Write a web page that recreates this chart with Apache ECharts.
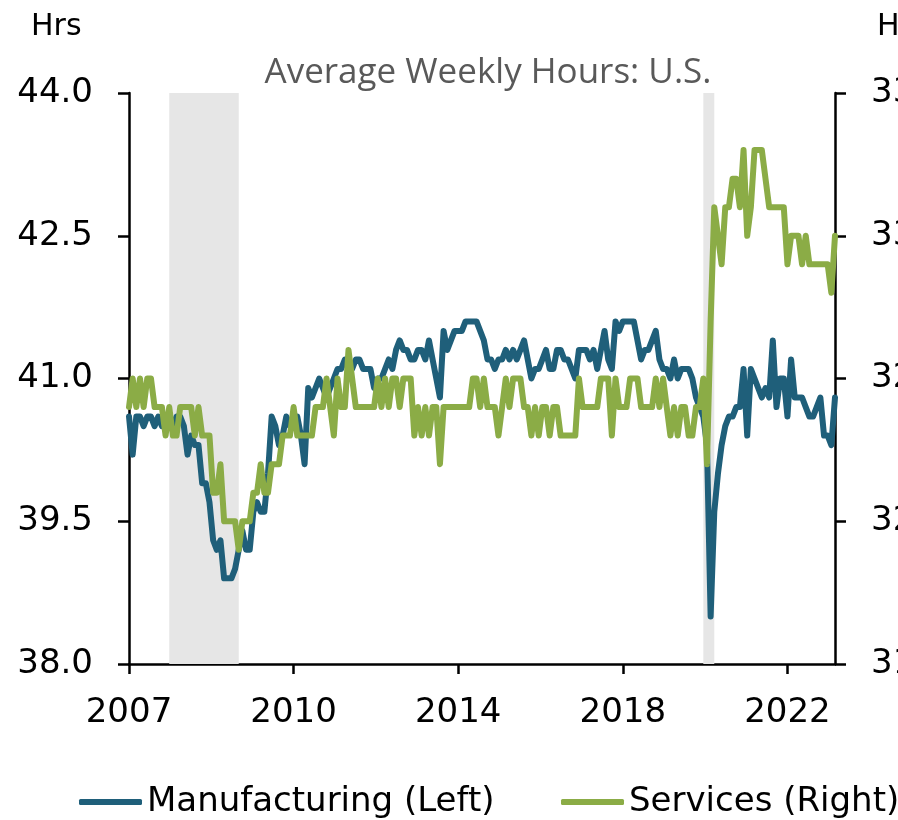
<!DOCTYPE html>
<html>
<head>
    <meta charset="UTF-8">
    <title>Average Weekly Hours: U.S.</title>
    <script src="https://cdn.jsdelivr.net/npm/echarts@6/dist/echarts.min.js"></script>
    <style>
        html, body { margin: 0; padding: 0; background: #fff; }
        #main { width: 898px; height: 820px; }
    </style>
</head>
<body>
    <div id="main"></div>

    <script type="text/javascript">
        // monthly categories, Jan 2007 .. Feb 2023
        const startYear = 2007;
        const monthCount = 194;
        const months = [];
        for (let i = 0; i < monthCount; i++) {
            const y = startYear + Math.floor(i / 12);
            const m = (i % 12) + 1;
            months.push(y + '-' + (m < 10 ? '0' + m : m));
        }

        // Manufacturing average weekly hours (left axis)
        const manufacturing = [
            40.6, 40.2, 40.6, 40.6, 40.5, 40.6, 40.6, 40.5, 40.6, 40.5,
            40.6, 40.6, 40.5, 40.6, 40.6, 40.5, 40.2, 40.4, 40.3, 40.3,
            39.9, 39.9, 39.7, 39.3, 39.2, 39.3, 38.9, 38.9, 38.9, 39.0,
            39.2, 39.4, 39.2, 39.2, 39.6, 39.7, 39.6, 39.6, 40.0, 40.6,
            40.5, 40.3, 40.4, 40.6, 40.5, 40.6, 40.6, 40.4, 40.1, 40.9,
            40.8, 40.9, 41.0, 40.9, 40.8, 40.9, 41.0, 41.1, 41.1, 41.2,
            41.2, 41.1, 41.2, 41.2, 41.1, 41.1, 41.1, 40.9, 41.0, 41.0,
            41.1, 41.2, 41.1, 41.3, 41.4, 41.3, 41.3, 41.2, 41.2, 41.3,
            41.3, 41.2, 41.4, 41.2, 41.0, 40.8, 41.5, 41.3, 41.4, 41.5,
            41.5, 41.5, 41.6, 41.6, 41.6, 41.6, 41.5, 41.4, 41.2, 41.2,
            41.1, 41.2, 41.2, 41.3, 41.2, 41.3, 41.2, 41.3, 41.4, 41.2,
            41.0, 41.1, 41.1, 41.2, 41.3, 41.1, 41.1, 41.3, 41.3, 41.2,
            41.2, 41.1, 41.0, 41.3, 41.3, 41.3, 41.2, 41.3, 41.1, 41.3,
            41.5, 41.2, 41.1, 41.6, 41.5, 41.6, 41.6, 41.6, 41.6, 41.4,
            41.2, 41.3, 41.3, 41.4, 41.5, 41.2, 41.1, 41.1, 41.0, 41.2,
            41.0, 41.1, 41.1, 41.1, 41.0, 40.8, 40.7, 40.6, 40.3, 38.5,
            39.6, 40.0, 40.3, 40.5, 40.6, 40.6, 40.7, 40.7, 41.1, 40.4,
            41.1, 41.0, 40.9, 40.8, 40.9, 40.8, 41.4, 40.7, 41.0, 41.0,
            40.6, 41.2, 40.8, 40.8, 40.8, 40.7, 40.6, 40.6, 40.7, 40.8,
            40.4, 40.4, 40.3, 40.8
        ];

        // Services average weekly hours (right axis)
        const services = [
            32.4, 32.5, 32.4, 32.5, 32.4, 32.5, 32.5, 32.4, 32.4, 32.4,
            32.3, 32.4, 32.3, 32.3, 32.4, 32.4, 32.4, 32.4, 32.3, 32.4,
            32.3, 32.3, 32.3, 32.1, 32.1, 32.2, 32.0, 32.0, 32.0, 32.0,
            31.9, 32.0, 32.0, 32.0, 32.1, 32.1, 32.2, 32.1, 32.1, 32.2,
            32.2, 32.2, 32.3, 32.3, 32.3, 32.4, 32.3, 32.3, 32.3, 32.3,
            32.3, 32.4, 32.4, 32.4, 32.5, 32.4, 32.3, 32.5, 32.4, 32.4,
            32.6, 32.5, 32.4, 32.4, 32.4, 32.4, 32.4, 32.4, 32.5, 32.4,
            32.5, 32.4, 32.5, 32.5, 32.4, 32.5, 32.5, 32.5, 32.3, 32.4,
            32.3, 32.4, 32.3, 32.4, 32.4, 32.2, 32.4, 32.4, 32.4, 32.4,
            32.4, 32.4, 32.4, 32.4, 32.5, 32.5, 32.4, 32.5, 32.4, 32.4,
            32.4, 32.3, 32.4, 32.5, 32.4, 32.5, 32.5, 32.5, 32.4, 32.4,
            32.3, 32.4, 32.3, 32.4, 32.4, 32.3, 32.4, 32.4, 32.3, 32.3,
            32.3, 32.3, 32.3, 32.5, 32.4, 32.4, 32.4, 32.4, 32.4, 32.5,
            32.5, 32.5, 32.3, 32.5, 32.4, 32.4, 32.4, 32.5, 32.5, 32.5,
            32.4, 32.4, 32.4, 32.4, 32.5, 32.4, 32.5, 32.4, 32.3, 32.4,
            32.3, 32.4, 32.4, 32.3, 32.3, 32.4, 32.4, 32.5, 32.2, 32.7,
            33.1, 33.0, 32.9, 33.1, 33.1, 33.2, 33.2, 33.1, 33.3, 33.0,
            33.1, 33.3, 33.3, 33.3, 33.2, 33.1, 33.1, 33.1, 33.1, 33.1,
            32.9, 33.0, 33.0, 33.0, 32.9, 33.0, 32.9, 32.9, 32.9, 32.9,
            32.9, 32.9, 32.8, 33.0
        ];

        // recession periods (shaded)
        const recessions = [
            ['2007-12', '2009-07'],
            ['2020-02', '2020-05']
        ];

        const leftTicks = { min: 38, max: 44, interval: 1.5 };
        const rightTicks = { min: 31.5, max: 33.5, interval: 0.5 };

        const labelFont = 'DejaVu Sans, sans-serif';
        const axisColor = '#000';

        var myChart = echarts.init(document.getElementById('main'), null, { renderer: 'canvas' });

        const legendBase = {
            top: 780,
            icon: 'roundRect',
            itemWidth: 63,
            itemHeight: 6,
            textStyle: { fontFamily: labelFont, fontSize: 34, color: '#000' }
        };

        var option = {
            animation: false,
            backgroundColor: '#fff',
            title: {
                text: 'Average Weekly Hours: U.S.',
                left: 483,
                top: 51,
                textAlign: 'center',
                textStyle: {
                    fontFamily: 'Open Sans, sans-serif',
                    fontWeight: 'normal',
                    fontSize: 35,
                    color: '#595959'
                }
            },
            graphic: [
                {
                    type: 'text', left: 31, top: 12,
                    style: { text: 'Hrs', font: '30px ' + labelFont, fill: '#000' }
                },
                {
                    type: 'text', left: 877, top: 12,
                    style: { text: 'Hrs', font: '30px ' + labelFont, fill: '#000' }
                }
            ],
            legend: [
                Object.assign({ data: ['Manufacturing (Left)'], left: 74 }, legendBase),
                Object.assign({ data: ['Services (Right)'], left: 556 }, legendBase)
            ],
            grid: {
                left: 129,
                right: 63,
                top: 93,
                bottom: 156,
                containLabel: false,
                outerBoundsMode: 'none'
            },
            xAxis: {
                type: 'category',
                data: months,
                boundaryGap: false,
                axisLine: { lineStyle: { color: axisColor, width: 2.5 } },
                axisTick: { interval: 44, length: 10, lineStyle: { color: axisColor, width: 2.5 } },
                axisLabel: {
                    interval: 44,
                    formatter: function (v) { return v.slice(0, 4); },
                    fontFamily: labelFont,
                    fontSize: 34,
                    color: '#000',
                    margin: 32
                },
                splitLine: { show: false }
            },
            yAxis: [
                {
                    type: 'value',
                    position: 'left',
                    min: leftTicks.min,
                    max: leftTicks.max,
                    interval: leftTicks.interval,
                    axisLine: { show: true, lineStyle: { color: axisColor, width: 2.5 } },
                    axisTick: { show: true, length: 11, lineStyle: { color: axisColor, width: 2.5 } },
                    splitLine: { show: false },
                    axisLabel: {
                        formatter: function (v) { return v.toFixed(1); },
                        fontFamily: labelFont,
                        fontSize: 34,
                        color: '#000',
                        margin: 36
                    }
                },
                {
                    type: 'value',
                    position: 'right',
                    min: rightTicks.min,
                    max: rightTicks.max,
                    interval: rightTicks.interval,
                    axisLine: { show: true, lineStyle: { color: axisColor, width: 2.5 } },
                    axisTick: { show: true, length: 11, lineStyle: { color: axisColor, width: 2.5 } },
                    splitLine: { show: false },
                    axisLabel: {
                        formatter: function (v) { return v.toFixed(1); },
                        fontFamily: labelFont,
                        fontSize: 34,
                        color: '#000',
                        margin: 36
                    }
                }
            ],
            series: [
                {
                    name: 'Manufacturing (Left)',
                    type: 'line',
                    yAxisIndex: 0,
                    data: manufacturing,
                    symbol: 'none',
                    color: '#1F5F7A',
                    lineStyle: { width: 6, color: '#1F5F7A', join: 'round', cap: 'round' },
                    z: 3,
                    markArea: {
                        silent: true,
                        itemStyle: { color: '#E6E6E6' },
                        data: recessions.map(r => [{ xAxis: r[0] }, { xAxis: r[1] }])
                    }
                },
                {
                    name: 'Services (Right)',
                    type: 'line',
                    yAxisIndex: 1,
                    data: services,
                    symbol: 'none',
                    color: '#8BAC46',
                    lineStyle: { width: 6, color: '#8BAC46', join: 'round', cap: 'round' },
                    z: 4
                }
            ]
        };

        myChart.setOption(option);
    </script>
</body>
</html>
